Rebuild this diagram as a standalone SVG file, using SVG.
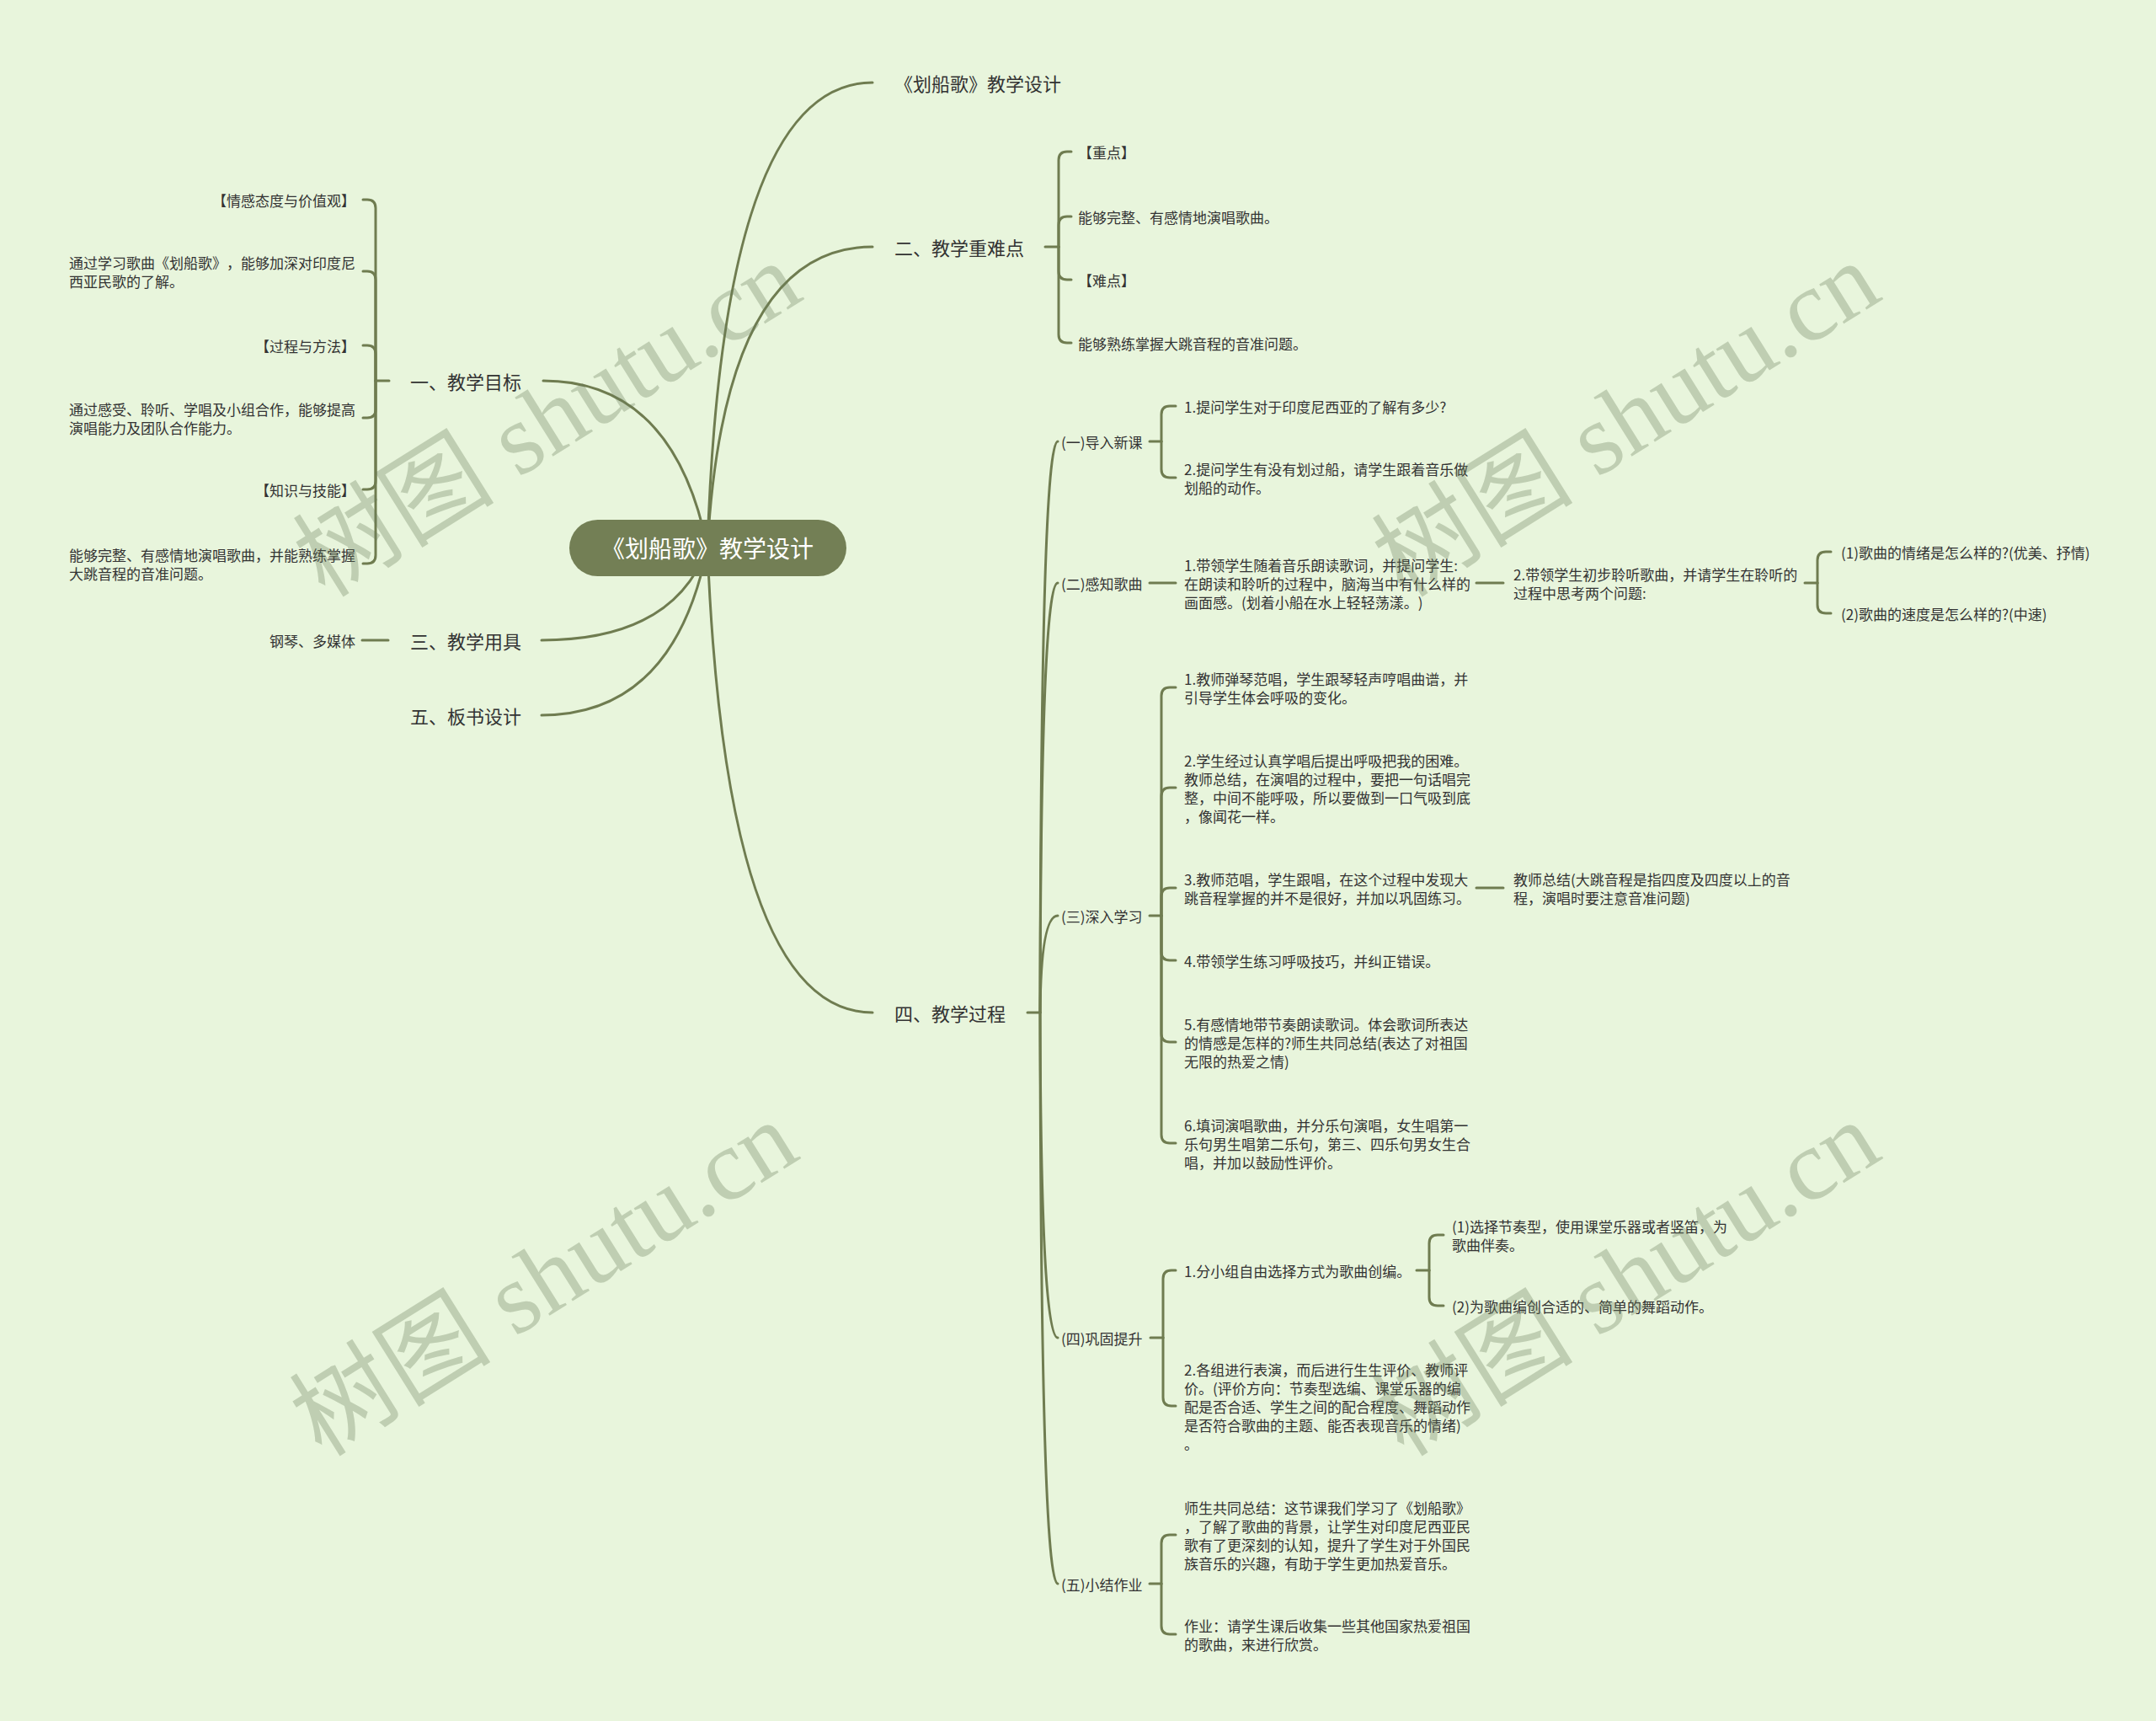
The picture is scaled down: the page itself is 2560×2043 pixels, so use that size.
<svg xmlns="http://www.w3.org/2000/svg" width="2560" height="2043" viewBox="0 0 2560 2043">
<style>
.ln{fill:none;stroke:#6f7c50;stroke-width:3;stroke-linecap:round;stroke-linejoin:round}
.t{font-family:"Noto Sans CJK SC","Microsoft YaHei",sans-serif;font-size:17px;fill:#333;dominant-baseline:central;text-spacing-trim:space-all}
.l1{font-size:22px}
.root{font-family:"Noto Sans CJK SC","Microsoft YaHei",sans-serif;font-size:28px;fill:#ffffff;dominant-baseline:central;text-anchor:middle;text-spacing-trim:space-all}
.e{text-anchor:end}
.wm{font-family:"Liberation Serif","Noto Sans CJK SC",serif;font-size:120px;fill:#6b7d5a;fill-opacity:0.32;text-anchor:middle;dominant-baseline:central}
</style>
<rect x="0" y="0" width="2560" height="2043" fill="#e8f5dc"/>

<g id="connectors">
<path class="ln" d="M840 650 Q858 98 1036 98"/>
<path class="ln" d="M840 650 Q860 293 1036 293"/>
<path class="ln" d="M840 650 Q862 1202 1036 1202"/>
<path class="ln" d="M840 650 Q800 452 645 452"/>
<path class="ln" d="M840 650 Q800 760 643 760"/>
<path class="ln" d="M840 650 Q800 849 643 849"/>

<path class="ln" d="M1241 293 H1257"/>
<path class="ln" d="M1257 293 V190 Q1257 180 1267 180 H1272"/>
<path class="ln" d="M1257 293 V267 Q1257 257 1267 257 H1272"/>
<path class="ln" d="M1257 293 V322 Q1257 332 1267 332 H1272"/>
<path class="ln" d="M1257 293 V397 Q1257 407 1267 407 H1272"/>

<path class="ln" d="M462 452 H446"/>
<path class="ln" d="M446 452 V247 Q446 237 436 237 H431"/>
<path class="ln" d="M446 452 V332 Q446 322 436 322 H431"/>
<path class="ln" d="M446 452 V420 Q446 410 436 410 H431"/>
<path class="ln" d="M446 452 V486 Q446 496 436 496 H431"/>
<path class="ln" d="M446 452 V571 Q446 581 436 581 H431"/>
<path class="ln" d="M446 452 V659 Q446 669 436 669 H431"/>

<path class="ln" d="M461 760 H430"/>

<path class="ln" d="M1220 1202 H1235"/>
<path class="ln" d="M1235 1202 Q1236 524 1256 524"/>
<path class="ln" d="M1235 1202 Q1236 692 1256 692"/>
<path class="ln" d="M1235 1202 Q1236 1087 1256 1087"/>
<path class="ln" d="M1235 1202 Q1236 1588 1256 1588"/>
<path class="ln" d="M1235 1202 Q1236 1880 1256 1880"/>

<path class="ln" d="M1365 524 H1379"/>
<path class="ln" d="M1379 524 V492 Q1379 482 1389 482 H1396"/>
<path class="ln" d="M1379 524 V557 Q1379 567 1389 567 H1396"/>

<path class="ln" d="M1365 692 H1396"/>
<path class="ln" d="M1753 692 H1785"/>
<path class="ln" d="M2143 692 H2158"/>
<path class="ln" d="M2158 692 V665 Q2158 655 2168 655 H2174"/>
<path class="ln" d="M2158 692 V718 Q2158 728 2168 728 H2174"/>

<path class="ln" d="M1365 1087 H1379"/>
<path class="ln" d="M1379 1087 V826 Q1379 816 1389 816 H1396"/>
<path class="ln" d="M1379 1087 V945 Q1379 935 1389 935 H1396"/>
<path class="ln" d="M1379 1087 V1064 Q1379 1054 1389 1054 H1396"/>
<path class="ln" d="M1379 1087 V1130 Q1379 1140 1389 1140 H1396"/>
<path class="ln" d="M1379 1087 V1227 Q1379 1237 1389 1237 H1396"/>
<path class="ln" d="M1379 1087 V1347 Q1379 1357 1389 1357 H1396"/>
<path class="ln" d="M1753 1054 H1785"/>

<path class="ln" d="M1366 1588 H1381"/>
<path class="ln" d="M1381 1588 V1518 Q1381 1508 1391 1508 H1396"/>
<path class="ln" d="M1381 1588 V1659 Q1381 1669 1391 1669 H1396"/>
<path class="ln" d="M1682 1508 H1697"/>
<path class="ln" d="M1697 1508 V1476 Q1697 1466 1707 1466 H1714"/>
<path class="ln" d="M1697 1508 V1540 Q1697 1550 1707 1550 H1714"/>

<path class="ln" d="M1365 1880 H1379"/>
<path class="ln" d="M1379 1880 V1832 Q1379 1822 1389 1822 H1396"/>
<path class="ln" d="M1379 1880 V1930 Q1379 1940 1389 1940 H1396"/>
</g>

<g id="root">
<rect x="676" y="617" width="329" height="67" rx="33.5" fill="#737f55"/>
<text class="root" x="840" y="650">《划船歌》教学设计</text>
</g>

<g id="n-title"><text class="t l1" x="1062" y="98">《划船歌》教学设计</text></g>
<g id="n-2"><text class="t l1" x="1062" y="293">二、教学重难点</text></g>
<g id="n-2-1"><text class="t" x="1280" y="180">【重点】</text></g>
<g id="n-2-2"><text class="t" x="1280" y="257">能够完整、有感情地演唱歌曲。</text></g>
<g id="n-2-3"><text class="t" x="1280" y="332">【难点】</text></g>
<g id="n-2-4"><text class="t" x="1280" y="407">能够熟练掌握大跳音程的音准问题。</text></g>

<g id="n-1"><text class="t l1" x="487" y="452">一、教学目标</text></g>
<g id="n-1-1"><text class="t e" x="422" y="237">【情感态度与价值观】</text></g>
<g id="n-1-2"><text class="t"><tspan x="82" y="311">通过学习歌曲《划船歌》，能够加深对印度尼</tspan><tspan x="82" y="333">西亚民歌的了解。</tspan></text></g>
<g id="n-1-3"><text class="t e" x="422" y="410">【过程与方法】</text></g>
<g id="n-1-4"><text class="t"><tspan x="82" y="485">通过感受、聆听、学唱及小组合作，能够提高</tspan><tspan x="82" y="507">演唱能力及团队合作能力。</tspan></text></g>
<g id="n-1-5"><text class="t e" x="422" y="581">【知识与技能】</text></g>
<g id="n-1-6"><text class="t"><tspan x="82" y="658">能够完整、有感情地演唱歌曲，并能熟练掌握</tspan><tspan x="82" y="680">大跳音程的音准问题。</tspan></text></g>

<g id="n-3"><text class="t l1" x="487" y="760">三、教学用具</text></g>
<g id="n-3-1"><text class="t e" x="422" y="760">钢琴、多媒体</text></g>
<g id="n-5"><text class="t l1" x="487" y="849">五、板书设计</text></g>

<g id="n-4"><text class="t l1" x="1062" y="1202">四、教学过程</text></g>

<g id="n-4-1"><text class="t" x="1260" y="524">(一)导入新课</text></g>
<g id="n-4-1-1"><text class="t" x="1406" y="482">1.提问学生对于印度尼西亚的了解有多少?</text></g>
<g id="n-4-1-2"><text class="t"><tspan x="1406" y="556">2.提问学生有没有划过船，请学生跟着音乐做</tspan><tspan x="1406" y="578">划船的动作。</tspan></text></g>

<g id="n-4-2"><text class="t" x="1260" y="692">(二)感知歌曲</text></g>
<g id="n-4-2-1"><text class="t"><tspan x="1406" y="670">1.带领学生随着音乐朗读歌词，并提问学生:</tspan><tspan x="1406" y="692">在朗读和聆听的过程中，脑海当中有什么样的</tspan><tspan x="1406" y="714">画面感。(划着小船在水上轻轻荡漾。)</tspan></text></g>
<g id="n-4-2-2"><text class="t"><tspan x="1797" y="681">2.带领学生初步聆听歌曲，并请学生在聆听的</tspan><tspan x="1797" y="703">过程中思考两个问题:</tspan></text></g>
<g id="n-4-2-2-1"><text class="t" x="2186" y="655">(1)歌曲的情绪是怎么样的?(优美、抒情)</text></g>
<g id="n-4-2-2-2"><text class="t" x="2186" y="728">(2)歌曲的速度是怎么样的?(中速)</text></g>

<g id="n-4-3"><text class="t" x="1260" y="1087">(三)深入学习</text></g>
<g id="n-4-3-1"><text class="t"><tspan x="1406" y="805">1.教师弹琴范唱，学生跟琴轻声哼唱曲谱，并</tspan><tspan x="1406" y="827">引导学生体会呼吸的变化。</tspan></text></g>
<g id="n-4-3-2"><text class="t"><tspan x="1406" y="902">2.学生经过认真学唱后提出呼吸把我的困难。</tspan><tspan x="1406" y="924">教师总结，在演唱的过程中，要把一句话唱完</tspan><tspan x="1406" y="946">整，中间不能呼吸，所以要做到一口气吸到底</tspan><tspan x="1406" y="968">，像闻花一样。</tspan></text></g>
<g id="n-4-3-3"><text class="t"><tspan x="1406" y="1043">3.教师范唱，学生跟唱，在这个过程中发现大</tspan><tspan x="1406" y="1065">跳音程掌握的并不是很好，并加以巩固练习。</tspan></text></g>
<g id="n-4-3-3-1"><text class="t"><tspan x="1797" y="1043">教师总结(大跳音程是指四度及四度以上的音</tspan><tspan x="1797" y="1065">程，演唱时要注意音准问题)</tspan></text></g>
<g id="n-4-3-4"><text class="t" x="1406" y="1140">4.带领学生练习呼吸技巧，并纠正错误。</text></g>
<g id="n-4-3-5"><text class="t"><tspan x="1406" y="1215">5.有感情地带节奏朗读歌词。体会歌词所表达</tspan><tspan x="1406" y="1237">的情感是怎样的?师生共同总结(表达了对祖国</tspan><tspan x="1406" y="1259">无限的热爱之情)</tspan></text></g>
<g id="n-4-3-6"><text class="t"><tspan x="1406" y="1335">6.填词演唱歌曲，并分乐句演唱，女生唱第一</tspan><tspan x="1406" y="1357">乐句男生唱第二乐句，第三、四乐句男女生合</tspan><tspan x="1406" y="1379">唱，并加以鼓励性评价。</tspan></text></g>

<g id="n-4-4"><text class="t" x="1260" y="1588">(四)巩固提升</text></g>
<g id="n-4-4-1"><text class="t" x="1406" y="1508">1.分小组自由选择方式为歌曲创编。</text></g>
<g id="n-4-4-1-1"><text class="t"><tspan x="1724" y="1455">(1)选择节奏型，使用课堂乐器或者竖笛，为</tspan><tspan x="1724" y="1477">歌曲伴奏。</tspan></text></g>
<g id="n-4-4-1-2"><text class="t" x="1724" y="1550">(2)为歌曲编创合适的、简单的舞蹈动作。</text></g>
<g id="n-4-4-2"><text class="t"><tspan x="1406" y="1625">2.各组进行表演，而后进行生生评价、教师评</tspan><tspan x="1406" y="1647">价。(评价方向：节奏型选编、课堂乐器的编</tspan><tspan x="1406" y="1669">配是否合适、学生之间的配合程度、舞蹈动作</tspan><tspan x="1406" y="1691">是否符合歌曲的主题、能否表现音乐的情绪)</tspan><tspan x="1406" y="1713">。</tspan></text></g>

<g id="n-4-5"><text class="t" x="1260" y="1880">(五)小结作业</text></g>
<g id="n-4-5-1"><text class="t"><tspan x="1406" y="1789">师生共同总结：这节课我们学习了《划船歌》</tspan><tspan x="1406" y="1811">，了解了歌曲的背景，让学生对印度尼西亚民</tspan><tspan x="1406" y="1833">歌有了更深刻的认知，提升了学生对于外国民</tspan><tspan x="1406" y="1855">族音乐的兴趣，有助于学生更加热爱音乐。</tspan></text></g>
<g id="n-4-5-2"><text class="t"><tspan x="1406" y="1929">作业：请学生课后收集一些其他国家热爱祖国</tspan><tspan x="1406" y="1951">的歌曲，来进行欣赏。</tspan></text></g>

<g id="watermark">
<text class="wm" x="650" y="498" transform="rotate(-32 650 498)">树图 shutu.cn</text>
<text class="wm" x="1931" y="498" transform="rotate(-32 1931 498)">树图 shutu.cn</text>
<text class="wm" x="646" y="1518" transform="rotate(-32 646 1518)">树图 shutu.cn</text>
<text class="wm" x="1931" y="1518" transform="rotate(-32 1931 1518)">树图 shutu.cn</text>
</g>
</svg>
